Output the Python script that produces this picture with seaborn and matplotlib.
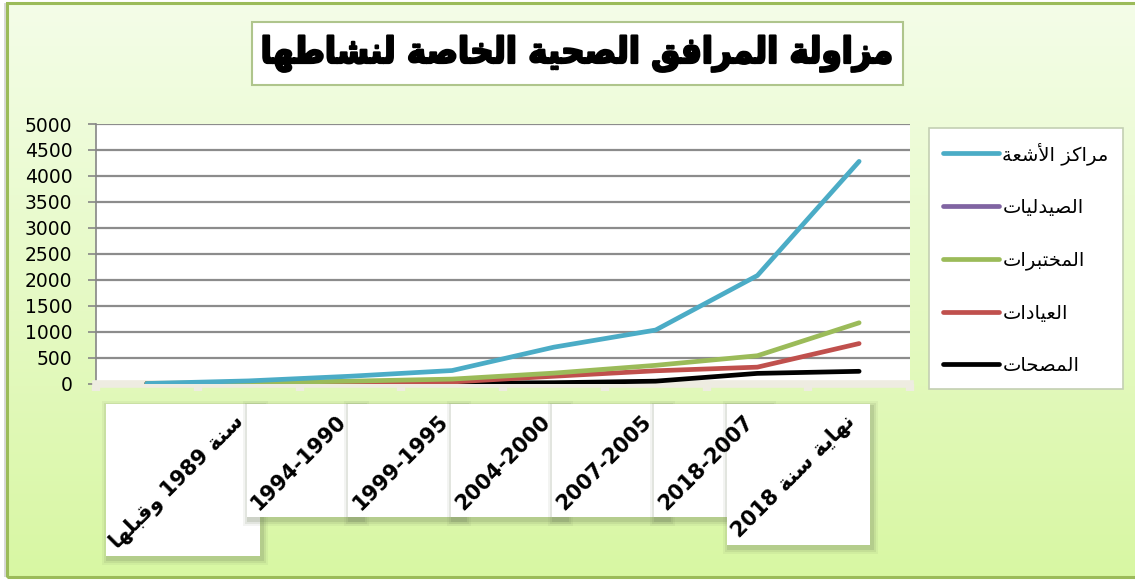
import re
import numpy as np
import pandas as pd
import matplotlib
matplotlib.use("Agg")
import matplotlib.pyplot as plt
import seaborn as sns
from matplotlib.patches import Rectangle
from matplotlib.lines import Line2D
from matplotlib.colors import LinearSegmentedColormap
import matplotlib.patheffects as pe

# data
periods = ["", "سنة 1989 وقبلها", "1994-1990", "1999-1995", "2004-2000",
           "2007-2005", "2018-2007", "نهاية سنة 2018"]
series_names = ["مراكز الأشعة", "الصيدليات", "المختبرات", "العيادات", "المصحات"]
radiology    = [0, 50, 140, 250, 700, 1030, 2080, 4280]
pharmacies   = [0, 0, 0, 0, 0, 0, 0, 0]
laboratories = [0, 15, 45, 85, 200, 350, 535, 1170]
clinics      = [0, 5, 15, 30, 140, 245, 315, 770]
hospitals    = [0, 0, 2, 5, 15, 45, 195, 235]
yticks = [0, 500, 1000, 1500, 2000, 2500, 3000, 3500, 4000, 4500, 5000]
title = "مزاولة المرافق الصحية الخاصة لنشاطها"

colors = ["#4BACC6", "#8064A2", "#9BBB59", "#C0504D", "#000000"]
zorders = [6, 2, 5, 4, 3]

# --- minimal Arabic shaping (matplotlib has no bidi / joining) ---
ARABIC = {
    "ا": (0xFE8D, 2), "أ": (0xFE83, 2), "إ": (0xFE87, 2), "آ": (0xFE81, 2),
    "ب": (0xFE8F, 4), "ة": (0xFE93, 2), "ت": (0xFE95, 4), "ث": (0xFE99, 4),
    "ج": (0xFE9D, 4), "ح": (0xFEA1, 4), "خ": (0xFEA5, 4), "د": (0xFEA9, 2),
    "ذ": (0xFEAB, 2), "ر": (0xFEAD, 2), "ز": (0xFEAF, 2), "س": (0xFEB1, 4),
    "ش": (0xFEB5, 4), "ص": (0xFEB9, 4), "ض": (0xFEBD, 4), "ط": (0xFEC1, 4),
    "ظ": (0xFEC5, 4), "ع": (0xFEC9, 4), "غ": (0xFECD, 4), "ف": (0xFED1, 4),
    "ق": (0xFED5, 4), "ك": (0xFED9, 4), "ل": (0xFEDD, 4), "م": (0xFEE1, 4),
    "ن": (0xFEE5, 4), "ه": (0xFEE9, 4), "و": (0xFEED, 2), "ى": (0xFEEF, 2),
    "ي": (0xFEF1, 4),
}
LAM_ALEF = {"ا": 0xFEFB, "أ": 0xFEF7, "إ": 0xFEF9, "آ": 0xFEF5}


def shape(text):
    toks = []
    i = 0
    while i < len(text):
        if text[i] == "ل" and i + 1 < len(text) and text[i + 1] in LAM_ALEF:
            toks.append("LA" + text[i + 1])
            i += 2
        else:
            toks.append(text[i])
            i += 1
    is_ar = lambda t: t is not None and (t.startswith("LA") or t in ARABIC)
    joins_fwd = lambda t: t is not None and t in ARABIC and ARABIC[t][1] == 4
    out = []
    for k, t in enumerate(toks):
        if not is_ar(t):
            out.append(t)
            continue
        prev = toks[k - 1] if k > 0 else None
        nxt = toks[k + 1] if k + 1 < len(toks) else None
        jp = joins_fwd(prev)
        if t.startswith("LA"):
            out.append(chr(LAM_ALEF[t[2]] + (1 if jp else 0)))
            continue
        base, n = ARABIC[t]
        jn = n == 4 and is_ar(nxt)
        form = (3 if jn else 1) if jp else (2 if jn else 0)
        out.append(chr(base + form))
    s = "".join(out)[::-1]
    return re.sub(r"[0-9][0-9\-]*[0-9]|[0-9]", lambda m: m.group(0)[::-1], s)


W, H = 1135, 580


def px(x, y, w, h):
    return [x / W, 1 - (y + h) / H, w / W, h / H]


df = pd.DataFrame({
    "period": periods * 5,
    "value": radiology + pharmacies + laboratories + clinics + hospitals,
    "series": np.repeat(series_names, len(periods)),
})

fig = plt.figure(figsize=(W / 100, H / 100), dpi=100, facecolor="white")

# green gradient background with border
bg = fig.add_axes(px(7, 4, W - 7, 573), zorder=-2)
bg.imshow(np.linspace(0, 1, 256)[:, None], aspect="auto", extent=[0, 1, 0, 1],
          cmap=LinearSegmentedColormap.from_list("bg", ["#F4FDE8", "#D8F7A3"]))
bg.set_axis_off()
fig.add_artist(Rectangle((4 / W, 3 / H), 3 / W, 574 / H, transform=fig.transFigure,
                         facecolor="#d9d9d9", edgecolor="none", zorder=-1.5))
fig.add_artist(Rectangle((7 / W, 3 / H), 1.0, 574 / H, transform=fig.transFigure,
                         fill=False, edgecolor="#9BBB59", lw=2.2, zorder=-1))

ax = fig.add_axes(px(96, 124, 814, 259.5))
ax.set_facecolor("white")
sns.lineplot(data=df, x="period", y="value", hue="series", hue_order=series_names,
             palette=dict(zip(series_names, colors)), linewidth=3.4, sort=False,
             legend=False, ax=ax)
for line, z in zip(ax.lines, zorders):
    line.set_zorder(z)
    line.set_solid_capstyle("round")

ax.set_ylim(0, 5000)
ax.set_xlim(-0.5, len(periods) - 0.5)
ax.set_yticks(yticks)
ax.set_yticklabels([str(v) for v in yticks], fontsize=13.5, family="DejaVu Sans")
ax.yaxis.grid(True, color="#8C8C8C", lw=1.6)
ax.set_axisbelow(True)
ax.tick_params(axis="y", length=6, width=1.2, color="#868686", pad=11)
ax.set_xticks(range(len(periods)))
ax.set_xticklabels([shape(p) for p in periods], rotation=45, ha="right", va="top",
                   fontsize=15, fontweight="bold", family="DejaVu Sans")
ax.set_xticks(np.arange(-0.5, len(periods)), minor=True)
ax.tick_params(axis="x", which="major", length=0, pad=20)
ax.tick_params(axis="x", which="minor", length=5, width=6, color="#EEECE1")
ax.set_xlabel("")
ax.set_ylabel("")
for s in ["top", "right"]:
    ax.spines[s].set_visible(False)
ax.spines["left"].set_color("#868686")
ax.spines["left"].set_linewidth(1.2)
ax.spines["bottom"].set_color("#EEECE1")
ax.spines["bottom"].set_linewidth(5.5)

# title in a white box
fig.add_artist(Rectangle((252 / W, 1 - 85 / H), 651 / W, 63 / H, transform=fig.transFigure,
                         facecolor="white", edgecolor="#AFC58C", lw=1.5, zorder=2))
fig.text(577.5 / W, 1 - 54 / H, shape(title), ha="center", va="center", fontsize=26,
         fontweight="bold", fontstretch="condensed", family="DejaVu Sans", zorder=3,
         path_effects=[pe.withStroke(linewidth=1.6, foreground="black")])

# legend
handles = [Line2D([], [], color=c, lw=3.4, solid_capstyle="round") for c in colors]
leg = fig.legend(handles, [shape(n) for n in series_names], loc="upper left",
                 bbox_to_anchor=(929 / W, 1 - 128 / H), labelspacing=1.72,
                 handlelength=2.9, handletextpad=0.15, borderpad=0.72, borderaxespad=0,
                 frameon=True, fancybox=False, facecolor="white", edgecolor="#C4CFB3",
                 framealpha=1, prop={"family": "DejaVu Sans", "size": 14})
leg.get_frame().set_linewidth(1.2)

# white boxes (with soft shadows) behind the rotated category labels
fig.canvas.draw()
renderer = fig.canvas.get_renderer()
for i, lab in enumerate(ax.get_xticklabels()):
    if not lab.get_text():
        continue
    bb = lab.get_window_extent(renderer)
    x0, y0, w, h = bb.x0 - 1, bb.y0 - 3, bb.width + 12, bb.height + 10
    z = -0.9 + i * 0.05
    for grow, alpha in [(6, 0.08), (4, 0.12), (2, 0.18)]:
        fig.add_artist(Rectangle(((x0 + 2 - grow) / W, (y0 - 3 - grow) / H),
                                 (w + 2 * grow) / W, (h + 2 * grow) / H,
                                 transform=fig.transFigure, facecolor="#6f7f5a",
                                 alpha=alpha, edgecolor="none", zorder=z))
    fig.add_artist(Rectangle((x0 / W, y0 / H), w / W, h / H, transform=fig.transFigure,
                             facecolor="white", edgecolor="none", zorder=z + 0.01))

fig.savefig("out.png", dpi=100)
